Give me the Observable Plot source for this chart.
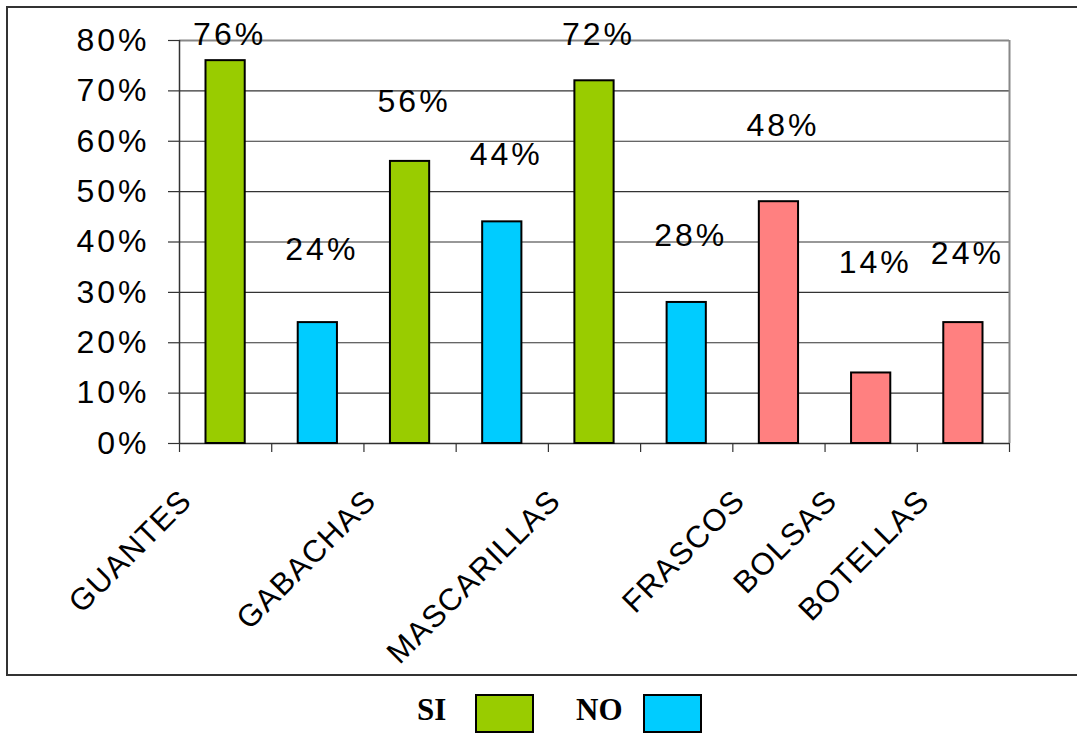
<!DOCTYPE html>
<html>
<head>
<meta charset="utf-8">
<script src="https://cdn.jsdelivr.net/npm/d3@7"></script>
<script src="https://cdn.jsdelivr.net/npm/@observablehq/plot@0.6"></script>
<style>
  html, body { margin: 0; padding: 0; background: #ffffff; overflow: hidden; }
  #wrap { position: relative; width: 1077px; height: 735px; overflow: hidden; }
  #frame { position: absolute; left: 6px; top: 6px; width: 1100px; height: 670px; border: 2px solid #333; box-sizing: border-box; }
  #chart { position: absolute; left: 0; top: 0; }
  #chart svg text { letter-spacing: 3px; }
  #chart svg text.cat { letter-spacing: 1.2px; }
  .leg { position: absolute; font-family: "Liberation Serif", "Times New Roman", serif; font-weight: bold; font-size: 31px; line-height: 1; color: #000; }
  .box { position: absolute; width: 59px; height: 39px; border: 2px solid #000; box-sizing: border-box; }
</style>
</head>
<body>
<div id="wrap">
  <div id="frame"></div>
  <div id="chart"></div>
  <div class="leg" style="left:417px; top:694px;">SI</div>
  <div class="box" style="left:475px; top:694px; background:#99CC00;"></div>
  <div class="leg" style="left:576px; top:694px;">NO</div>
  <div class="box" style="left:643px; top:694px; background:#00CCFF;"></div>
</div>
<script>
// Category labels per slot (blank slots are unlabeled in the original)
const slotLabels = ["GUANTES", "", "GABACHAS", "", "MASCARILLAS", "", "FRASCOS", "BOLSAS", "BOTELLAS"];
// Bar values (%)
const values = [76, 24, 56, 44, 72, 28, 48, 14, 24];
// Series of each bar
const groups = ["SI", "NO", "SI", "NO", "SI", "NO", "OTRO", "OTRO", "OTRO"];
// Height (in % units) at which each data label sits
const labelAt = [81.2, 38.5, 67.9, 57.3, 81.2, 41.3, 63.1, 35.9, 37.7];
// Y tick values
const yTicks = [0, 10, 20, 30, 40, 50, 60, 70, 80];
const seriesNames = ["SI", "NO", "OTRO"];
const seriesColors = ["#99CC00", "#00CCFF", "#FF8080"];

const idx = d3.range(values.length);
const font = "'Liberation Sans', Arial, Helvetica, sans-serif";

const chart = Plot.plot({
  width: 1077,
  height: 678,
  marginLeft: 179,
  marginRight: 68,
  marginTop: 40,
  marginBottom: 235,
  x: {type: "linear", domain: [0, 9], axis: null},
  y: {domain: [0, 80], axis: null},
  color: {domain: seriesNames, range: seriesColors},
  style: {fontFamily: font, fontSize: "32px", background: "transparent", color: "#000", overflow: "visible"},
  marks: [
    Plot.ruleY(yTicks.filter(d => d > 0 && d < 80), {stroke: "#333", strokeWidth: 1.2}),
    Plot.ruleY([80], {stroke: "#888", strokeWidth: 2}),
    Plot.ruleX([9], {stroke: "#888", strokeWidth: 2}),
    Plot.ruleX([0], {stroke: "#333", strokeWidth: 1.5}),
    Plot.ruleY([0], {stroke: "#333", strokeWidth: 1.5}),
    Plot.axisY({ticks: yTicks, tickSize: 11, tickPadding: 19, tickFormat: d => d + "%", fontSize: 32, stroke: "#333", strokeWidth: 1.2, strokeOpacity: 1}),
    Plot.axisX({ticks: d3.range(0, 10), tickSize: 9, tickFormat: () => "", stroke: "#333", strokeWidth: 1.2, strokeOpacity: 1}),
    Plot.rect(idx, {
      x1: i => i, x2: i => i + 1,
      y1: 0, y2: i => values[i],
      fill: i => groups[i],
      stroke: "#000", strokeWidth: 2,
      insetLeft: 26.5, insetRight: 26.5
    }),
    Plot.text(idx, {
      x: i => i + 0.5, y: i => labelAt[i],
      text: i => values[i] + "%",
      fontSize: 32, fill: "#000", dx: 4
    }),
    Plot.text(idx.filter(i => slotLabels[i]), {
      x: i => i, y: 0,
      text: i => slotLabels[i],
      rotate: -45, textAnchor: "end", lineAnchor: "bottom",
      dx: 14, dy: 59, fontSize: 31, fill: "#000"
    })
  ]
});
d3.select(chart).selectAll("text").filter(function() {
  return (this.getAttribute("transform") || "").includes("rotate");
}).classed("cat", true);
document.getElementById("chart").appendChild(chart);
</script>
</body>
</html>
